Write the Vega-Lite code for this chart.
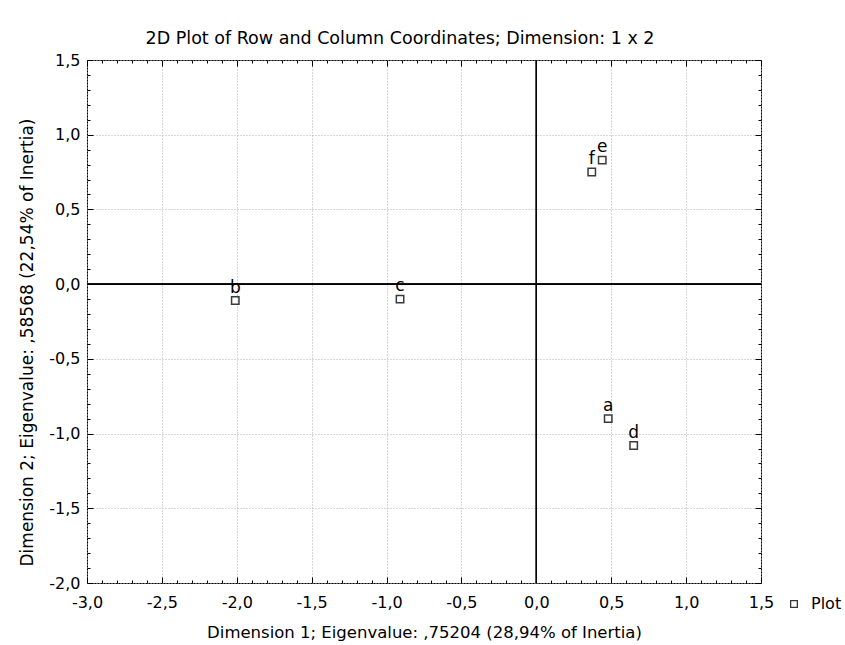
{
  "$schema": "https://vega.github.io/schema/vega-lite/v6.json",
  "width": 674,
  "height": 523,
  "autosize": {"type": "none"},
  "padding": {"left": 87, "top": 60, "right": 84, "bottom": 62},
  "background": "white",
  "title": {
    "text": "2D Plot of Row and Column Coordinates; Dimension:  1 x  2",
    "anchor": "middle",
    "dx": -24,
    "offset": 5,
    "font": "DejaVu Sans",
    "fontSize": 17.5,
    "fontWeight": "normal",
    "color": "#000"
  },
  "config": {
    "font": "DejaVu Sans",
    "view": {"stroke": "#000", "strokeWidth": 1},
    "axis": {
      "labelFont": "DejaVu Sans",
      "labelFontSize": 16,
      "labelColor": "#000",
      "titleFont": "DejaVu Sans",
      "titleFontSize": 16.5,
      "titleFontWeight": "normal",
      "titleColor": "#000",
      "domain": false,
      "tickColor": "#000",
      "labelOverlap": false,
      "labelFlush": false,
      "labelBound": false,
      "tickCount": 100
    }
  },
  "datasets": {
    "pts": [
      {"label": "a", "dim1": 0.48, "dim2": -0.90, "series": "Plot"},
      {"label": "b", "dim1": -2.01, "dim2": -0.11, "series": "Plot"},
      {"label": "c", "dim1": -0.91, "dim2": -0.10, "series": "Plot"},
      {"label": "d", "dim1": 0.65, "dim2": -1.08, "series": "Plot"},
      {"label": "e", "dim1": 0.44, "dim2": 0.83, "series": "Plot"},
      {"label": "f", "dim1": 0.37, "dim2": 0.75, "series": "Plot"}
    ]
  },
  "data": {"name": "pts"},
  "resolve": {
    "scale": {"x": "independent", "y": "independent"},
    "axis": {"x": "independent", "y": "independent"}
  },
  "layer": [
    {
      "layer": [
        {
          "mark": {"type": "rule", "color": "#000", "strokeWidth": 1},
          "encoding": {
            "x": {"datum": 0, "type": "quantitative", "scale": {"domain": [-3, 1.5], "nice": false, "zero": false}}
          }
        },
        {
          "mark": {"type": "rule", "color": "#000", "strokeWidth": 1},
          "encoding": {
            "y": {"datum": 0, "type": "quantitative", "scale": {"domain": [-2, 1.5], "nice": false, "zero": false}}
          }
        },
        {
          "mark": {"type": "point", "shape": "square", "filled": false, "size": 55, "strokeWidth": 1.5, "opacity": 1},
          "encoding": {
            "x": {
              "field": "dim1",
              "type": "quantitative",
              "scale": {"domain": [-3, 1.5], "nice": false, "zero": false},
              "axis": {
                "orient": "bottom",
                "title": "Dimension 1; Eigenvalue: ,75204 (28,94% of Inertia)",
                "titleX": 337,
                "titleY": 49,
                "titleBaseline": "middle",
                "titleAlign": "center",
                "titleAnchor": null,
                "tickCount": 100,
                "values": [-3.0,-2.9,-2.8,-2.7,-2.6,-2.5,-2.4,-2.3,-2.2,-2.1,-2.0,-1.9,-1.8,-1.7,-1.6,-1.5,-1.4,-1.3,-1.2,-1.1,-1.0,-0.9,-0.8,-0.7,-0.6,-0.5,-0.4,-0.3,-0.2,-0.1,0.0,0.1,0.2,0.3,0.4,0.5,0.6,0.7,0.8,0.9,1.0,1.1,1.2,1.3,1.4,1.5],
                "labelExpr": "abs(datum.value*2 - round(datum.value*2)) < 0.001 ? (datum.value < -0.001 ? '-' : '') + replace(format(abs(datum.value), '.1f'), '.', ',') : ''",
                "tickSize": {"condition": {"test": "abs(datum.value*2 - round(datum.value*2)) < 0.001", "value": -6}, "value": -3},
                "labelPadding": 17,
                "grid": true,
                "gridColor": "#b0b0b0",
                "gridDash": [1, 2],
                "gridOpacity": {"condition": {"test": "abs(datum.value*2 - round(datum.value*2)) < 0.001", "value": 1}, "value": 0}
              }
            },
            "y": {
              "field": "dim2",
              "type": "quantitative",
              "scale": {"domain": [-2, 1.5], "nice": false, "zero": false},
              "axis": {
                "orient": "left",
                "title": "Dimension 2; Eigenvalue: ,58568 (22,54% of Inertia)",
                "titleX": -60,
                "titleY": 282,
                "titleAngle": 270,
                "titleBaseline": "middle",
                "titleAlign": "center",
                "titleAnchor": null,
                "titleFontSize": 17,
                "tickCount": 100,
                "values": [-2.0,-1.9,-1.8,-1.7,-1.6,-1.5,-1.4,-1.3,-1.2,-1.1,-1.0,-0.9,-0.8,-0.7,-0.6,-0.5,-0.4,-0.3,-0.2,-0.1,0.0,0.1,0.2,0.3,0.4,0.5,0.6,0.7,0.8,0.9,1.0,1.1,1.2,1.3,1.4,1.5],
                "labelExpr": "abs(datum.value*2 - round(datum.value*2)) < 0.001 ? (datum.value < -0.001 ? '-' : '') + replace(format(abs(datum.value), '.1f'), '.', ',') : ''",
                "tickSize": {"condition": {"test": "abs(datum.value*2 - round(datum.value*2)) < 0.001", "value": -6}, "value": -3},
                "labelPadding": 13,
                "grid": true,
                "gridColor": "#b0b0b0",
                "gridDash": [1, 2],
                "gridOpacity": {"condition": {"test": "abs(datum.value*2 - round(datum.value*2)) < 0.001", "value": 1}, "value": 0}
              }
            },
            "color": {
              "field": "series",
              "type": "nominal",
              "scale": {"range": ["#3a3a3a"]},
              "legend": {
                "title": null,
                "orient": "none",
                "legendX": 699,
                "legendY": 536,
                "padding": 0,
                "symbolType": "square",
                "symbolSize": 45,
                "symbolStrokeWidth": 1.3,
                "labelFont": "DejaVu Sans",
                "labelFontSize": 16,
                "labelColor": "#000",
                "labelOffset": 9
              }
            }
          }
        }
      ]
    },
    {
      "mark": {"type": "text", "fontSize": 17, "font": "DejaVu Sans", "color": "#000", "baseline": "alphabetic", "align": "center", "dy": -8},
      "encoding": {
        "text": {"field": "label"},
        "x": {
          "field": "dim1",
          "type": "quantitative",
          "scale": {"domain": [-3, 1.5], "nice": false, "zero": false},
          "axis": {
            "orient": "top",
            "title": null,
            "labels": false,
            "grid": false,
            "tickCount": 100,
            "values": [-3.0,-2.9,-2.8,-2.7,-2.6,-2.5,-2.4,-2.3,-2.2,-2.1,-2.0,-1.9,-1.8,-1.7,-1.6,-1.5,-1.4,-1.3,-1.2,-1.1,-1.0,-0.9,-0.8,-0.7,-0.6,-0.5,-0.4,-0.3,-0.2,-0.1,0.0,0.1,0.2,0.3,0.4,0.5,0.6,0.7,0.8,0.9,1.0,1.1,1.2,1.3,1.4,1.5],
            "tickSize": {"condition": {"test": "abs(datum.value*2 - round(datum.value*2)) < 0.001", "value": -6}, "value": -3}
          }
        },
        "y": {
          "field": "dim2",
          "type": "quantitative",
          "scale": {"domain": [-2, 1.5], "nice": false, "zero": false},
          "axis": {
            "orient": "right",
            "title": null,
            "labels": false,
            "grid": false,
            "tickCount": 100,
            "values": [-2.0,-1.9,-1.8,-1.7,-1.6,-1.5,-1.4,-1.3,-1.2,-1.1,-1.0,-0.9,-0.8,-0.7,-0.6,-0.5,-0.4,-0.3,-0.2,-0.1,0.0,0.1,0.2,0.3,0.4,0.5,0.6,0.7,0.8,0.9,1.0,1.1,1.2,1.3,1.4,1.5],
            "tickSize": {"condition": {"test": "abs(datum.value*2 - round(datum.value*2)) < 0.001", "value": -6}, "value": -3}
          }
        }
      }
    }
  ]
}
